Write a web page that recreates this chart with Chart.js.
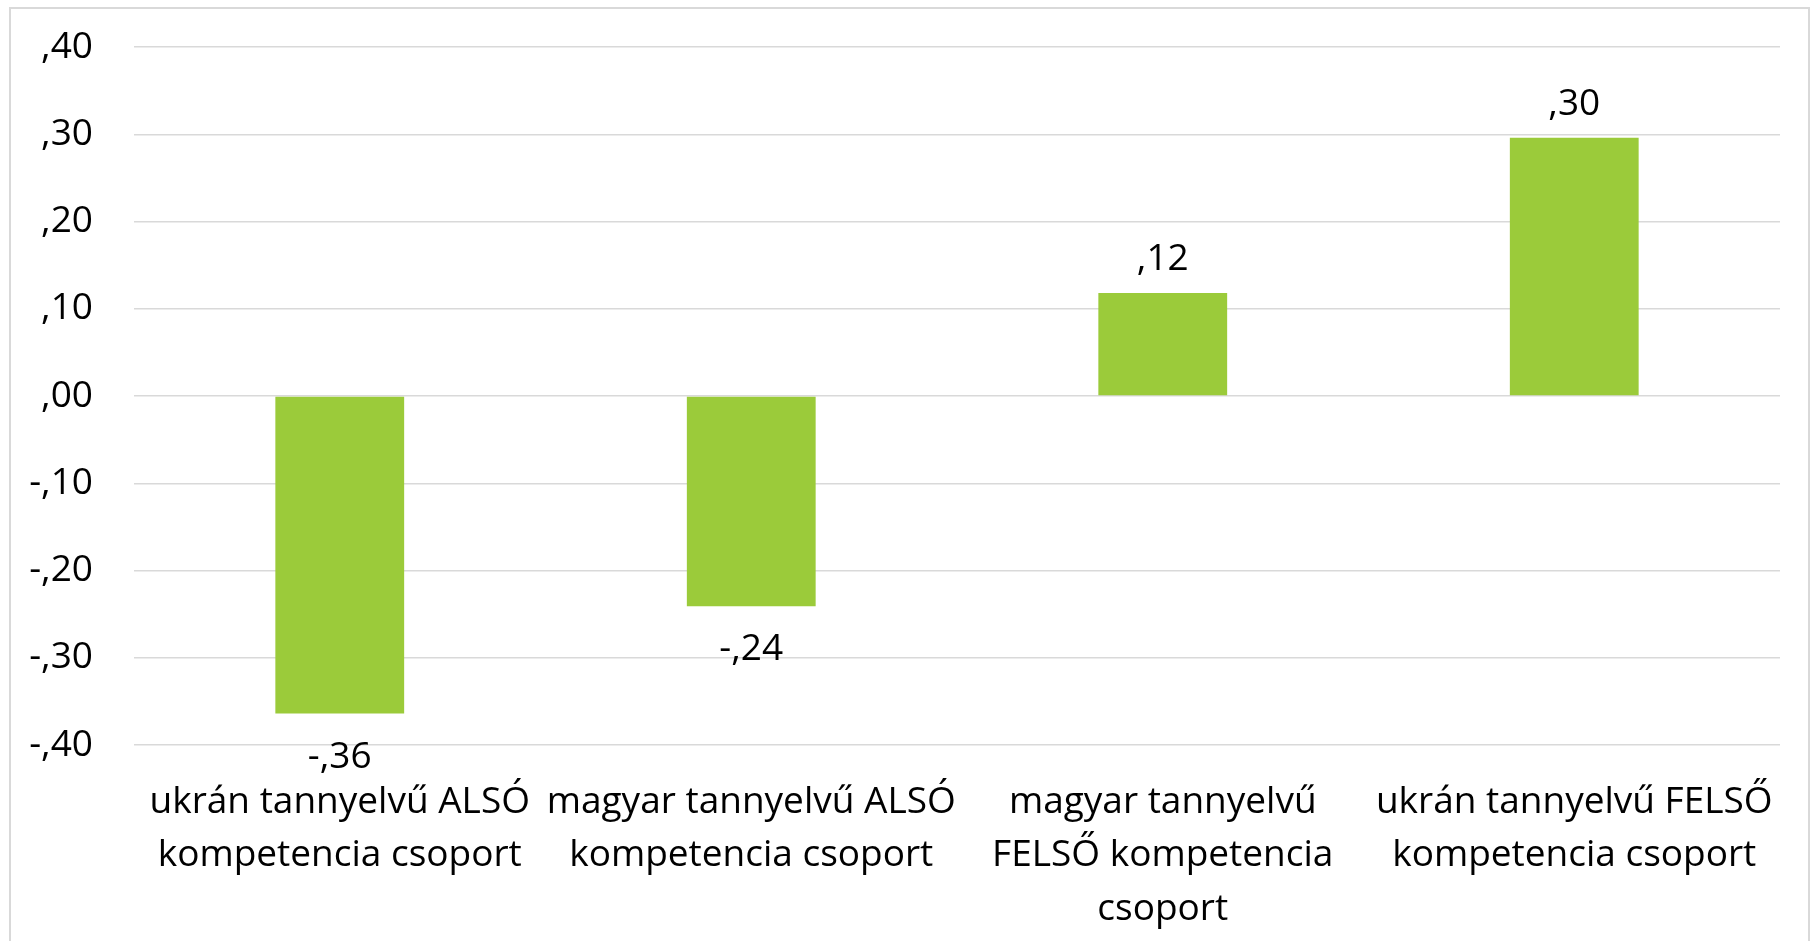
<!DOCTYPE html>
<html lang="hu">
<head>
  <meta charset="UTF-8">
  <title>Kompetencia csoportok</title>
  <script src="https://cdn.jsdelivr.net/npm/chart.js"></script>
  <style>
    html, body { margin: 0; padding: 0; background: #fff; }
    #wrap { width: 1814px; height: 941px; }
  </style>
</head>
<body>
  <div id="wrap"><canvas id="chart" width="1814" height="941"></canvas></div>

  <script>
    // data
    const categories = [
      ['ukrán tannyelvű ALSÓ', 'kompetencia csoport'],
      ['magyar tannyelvű ALSÓ', 'kompetencia csoport'],
      ['magyar tannyelvű', 'FELSŐ kompetencia', 'csoport'],
      ['ukrán tannyelvű FELSŐ', 'kompetencia csoport']
    ];
    const values = [-0.364, -0.241, 0.118, 0.296];
    const yMin = -0.4;
    const yMax = 0.4;
    const yStep = 0.1;

    const FONT = "'Open Sans', 'Noto Sans', sans-serif";
    const FONT_SIZE = 37;

    // ,40 / -,30 style numbers
    function fmt(v) {
      return v.toFixed(2).replace('0.', ',');
    }

    // frame around the whole chart
    const framePlugin = {
      id: 'frame',
      beforeDraw(chart) {
        const ctx = chart.ctx;
        ctx.save();
        ctx.strokeStyle = '#d9d9d9';
        ctx.lineWidth = 2;
        ctx.strokeRect(10, 8, 1799, 950);
        ctx.restore();
      }
    };

    // value labels above / below the bars
    const valueLabels = {
      id: 'valueLabels',
      afterDatasetsDraw(chart) {
        const ctx = chart.ctx;
        const meta = chart.getDatasetMeta(0);
        ctx.save();
        ctx.font = FONT_SIZE + 'px ' + FONT;
        ctx.fillStyle = '#000';
        ctx.textAlign = 'center';
        ctx.textBaseline = 'alphabetic';
        meta.data.forEach((bar, i) => {
          const v = chart.data.datasets[0].data[i];
          const y = v >= 0 ? bar.y - 23 : bar.y + 54;
          ctx.fillText(fmt(v), bar.x, y);
        });
        ctx.restore();
      }
    };

    const ctx = document.getElementById('chart').getContext('2d');
    new Chart(ctx, {
      type: 'bar',
      data: {
        labels: categories,
        datasets: [{
          data: values,
          backgroundColor: '#9bcb3a',
          borderWidth: 0,
          barPercentage: 0.313,
          categoryPercentage: 1
        }]
      },
      options: {
        responsive: false,
        animation: false,
        layout: {
          padding: { top: 47, right: 34, bottom: 0, left: 0 }
        },
        plugins: {
          legend: { display: false },
          tooltip: { enabled: false }
        },
        scales: {
          x: {
            grid: { display: false, drawTicks: false },
            border: { display: false },
            ticks: {
              color: '#000',
              font: { family: FONT, size: FONT_SIZE, lineHeight: 1.44 },
              padding: 31,
              maxRotation: 0,
              autoSkip: false
            },
            afterFit(scale) {
              scale.height = 196;
              scale.paddingLeft = 0;
              scale.paddingRight = 0;
            }
          },
          y: {
            min: yMin,
            max: yMax,
            grid: { color: '#d9d9d9', lineWidth: 1.5, drawTicks: false },
            border: { display: false },
            ticks: {
              stepSize: yStep,
              color: '#000',
              font: { family: FONT, size: FONT_SIZE },
              padding: 41,
              callback: v => fmt(v)
            },
            afterFit(scale) {
              scale.width = 134;
              scale.paddingTop = 0;
              scale.paddingBottom = 0;
            }
          }
        }
      },
      plugins: [framePlugin, valueLabels]
    });
  </script>
</body>
</html>
